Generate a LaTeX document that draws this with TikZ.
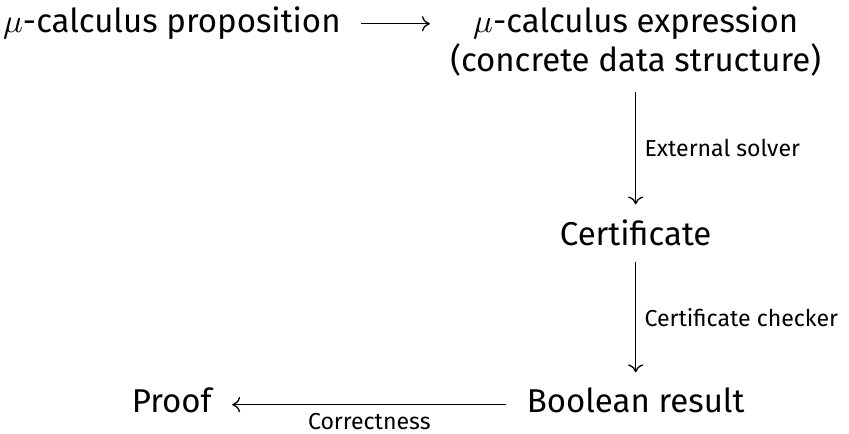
\documentclass[tikz,border=0pt]{standalone}
\usepackage{fontspec}
\setmainfont{Fira Sans}
\usetikzlibrary{arrows.meta}
\usetikzlibrary{positioning}
\tikzset{>={Computer Modern Rightarrow[length=2.4pt, width=4.6pt]},
         obj/.style = {anchor=base, inner xsep=6pt, inner ysep=4.6pt},
         lbl/.style = {font=\scriptsize, inner sep=2.5pt}}

\begin{document}
\begin{tikzpicture}
    \useasboundingbox (0, 0) rectangle (9.042, -4.612);

    \node [obj] (prop) at (1.83, -0.341) {$\mu$-calculus proposition};
    \node [obj, align=center] (expr) at (6.77, -0.764) {$\mu$-calculus expression\\(concrete data structure)};
    \node [obj] (cert) at (6.77, -2.620) {Certificate};
    \node [obj] (bool) at (6.77, -4.398) {Boolean result};
    \node [obj] (proof) at (1.83, -4.398) {Proof};

    \draw [->] ([yshift=2.5pt]prop.base east) -- ([yshift=2.5pt]prop.base east -| expr.west);
    \draw [->] (expr.south) -- (cert.north) node [lbl, midway, right] {External solver};
    \draw [->] (cert.south) -- (bool.north) node [lbl, midway, right] {Certificate checker};
    \draw [->] ([yshift=2.5pt]bool.base west) -- ([yshift=2.5pt]proof.base east)
        node [lbl, midway, below] {Correctness};
\end{tikzpicture}
\end{document}
